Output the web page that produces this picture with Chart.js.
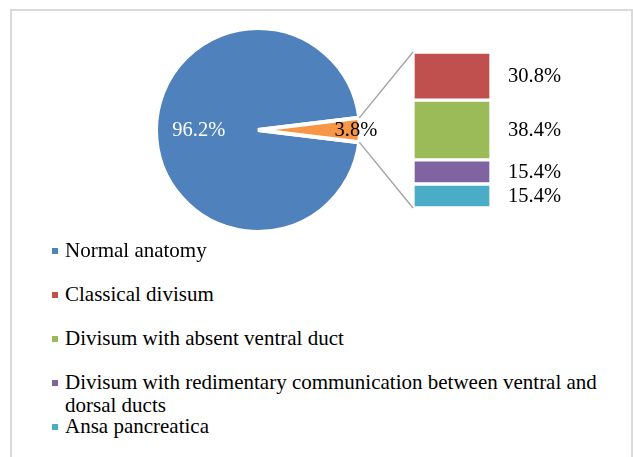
<!DOCTYPE html>
<html>
<head>
<meta charset="utf-8">
<script src="https://cdn.jsdelivr.net/npm/chart.js@4.4.1/dist/chart.umd.min.js"></script>
<style>
  html, body { margin: 0; padding: 0; background: #fff; }
  #wrap { position: relative; width: 633px; height: 457px; overflow: hidden; }
  #frame { position: absolute; left: 10px; top: 9px; width: 619px; height: 446px; border: 2px solid #dadada; }
  #pieBox { position: absolute; left: 128px; top: 20px; width: 260px; height: 220px; }
  #barBox { position: absolute; left: 340px; top: 40px; width: 260px; height: 180px; }
  .leg { position: absolute; left: 65px; width: 550px; line-height: 23px; color: #000; }
  .leg i { position: absolute; left: -13px; top: 9px; width: 6px; height: 6px; }
</style>
</head>
<body>
<div id="wrap">
  <div id="frame"></div>
  <div id="pieBox"><canvas id="pieChart" width="260" height="220"></canvas></div>
  <div id="barBox"><canvas id="barChart" width="260" height="180"></canvas></div>
  <div id="legend"></div>
</div>
<script>
// main pie: normal vs. everything else
const pieLabels = ['Normal anatomy', 'Other'];
const pieValues = [96.2, 3.8];
const pieColors = ['#4F81BD', '#F79646'];

// breakdown of the small slice
const subLabels = ['Classical divisum', 'Divisum with absent ventral duct', 'Divisum with redimentary communication between ventral and dorsal ducts', 'Ansa pancreatica'];
const subValues = [30.8, 38.4, 15.4, 15.4];
const subColors = ['#C0504D', '#9BBB59', '#8064A2', '#4BACC6'];

const family = '"Liberation Serif", Tinos, "Times New Roman", Times, "DejaVu Serif", "Noto Serif", serif';

// size the serif font so that its width matches the picture, whatever face we got
function fitSize(text, targetWidth) {
    const c = document.createElement('canvas').getContext('2d');
    c.font = '100px ' + family;
    return Math.round(targetWidth / c.measureText(text).width * 1000) / 10;
}
const legendSize = fitSize('Normal anatomy', 142);
const labelSize = fitSize('30.8%', 53);
const labelFont = labelSize + 'px ' + family;

// legend rows: first the pie's main slice, then the breakdown items
const legendItems = [{ text: pieLabels[0], color: pieColors[0] }]
    .concat(subLabels.map((t, i) => ({ text: t, color: subColors[i] })));
const legendEl = document.getElementById('legend');
legendItems.forEach((item, i) => {
    const div = document.createElement('div');
    div.className = 'leg';
    div.style.top = (239 + i * 44) + 'px';
    div.style.fontFamily = family;
    div.style.fontSize = legendSize + 'px';
    div.innerHTML = '<i style="background:' + item.color + '"></i>' + item.text;
    legendEl.appendChild(div);
});

const pieLabelPlugin = {
    id: 'pieLabels',
    afterDatasetsDraw(chart) {
        const ctx = chart.ctx;
        const arcs = chart.getDatasetMeta(0).data;
        const spots = [0.58, 0.96];
        const colors = ['#ffffff', '#000000'];
        ctx.save();
        ctx.font = labelFont;
        ctx.textAlign = 'center';
        ctx.textBaseline = 'middle';
        arcs.forEach((arc, i) => {
            const mid = (arc.startAngle + arc.endAngle) / 2;
            const r = arc.outerRadius * spots[i];
            ctx.fillStyle = colors[i];
            ctx.fillText(pieValues[i].toFixed(1) + '%', arc.x + Math.cos(mid) * r, arc.y + Math.sin(mid) * r + 1);
        });
        ctx.restore();
    }
};

const pieChart = new Chart(document.getElementById('pieChart'), {
    type: 'pie',
    data: {
        labels: pieLabels,
        datasets: [{ data: pieValues, backgroundColor: pieColors, borderColor: '#ffffff', borderWidth: 4 }]
    },
    options: {
        responsive: false,
        animation: false,
        radius: 102,
        rotation: 90 + pieValues[1] * 1.8,
        layout: { padding: 0 },
        plugins: { legend: { display: false }, tooltip: { enabled: false } }
    },
    plugins: [pieLabelPlugin]
});

const barExtras = {
    id: 'barExtras',
    afterDraw(chart) {
        const ctx = chart.ctx;
        const area = chart.chartArea;
        // connector lines from the small slice to the stacked bar
        const arc = pieChart.getDatasetMeta(0).data[1];
        const pr = document.getElementById('pieChart').getBoundingClientRect();
        const br = chart.canvas.getBoundingClientRect();
        const dx = pr.left - br.left, dy = pr.top - br.top;
        const p1 = [arc.x + dx + Math.cos(arc.startAngle) * arc.outerRadius, arc.y + dy + Math.sin(arc.startAngle) * arc.outerRadius];
        const p2 = [arc.x + dx + Math.cos(arc.endAngle) * arc.outerRadius, arc.y + dy + Math.sin(arc.endAngle) * arc.outerRadius];
        ctx.save();
        ctx.strokeStyle = '#A6A6A6';
        ctx.lineWidth = 1.5;
        ctx.beginPath();
        ctx.moveTo(p1[0], p1[1]); ctx.lineTo(area.left, area.top);
        ctx.moveTo(p2[0], p2[1]); ctx.lineTo(area.left, area.bottom);
        ctx.stroke();

        // value labels next to each segment
        ctx.font = labelFont;
        ctx.fillStyle = '#000000';
        ctx.textAlign = 'left';
        ctx.textBaseline = 'middle';
        chart.data.datasets.forEach((ds, i) => {
            const el = chart.getDatasetMeta(i).data[0];
            ctx.fillText(ds.data[0].toFixed(1) + '%', area.right + 17, (el.y + el.base) / 2 + 1);
        });
        ctx.restore();
    }
};

new Chart(document.getElementById('barChart'), {
    type: 'bar',
    data: {
        labels: [''],
        datasets: subLabels.map((l, i) => ({
            label: l,
            data: [subValues[i]],
            backgroundColor: subColors[i],
            borderColor: '#ffffff',
            borderWidth: 2,
            borderSkipped: false,
            barPercentage: 1,
            categoryPercentage: 1
        }))
    },
    options: {
        responsive: false,
        animation: false,
        layout: { padding: { left: 73, right: 109, top: 12, bottom: 12 } },
        scales: {
            x: { stacked: true, display: false },
            y: { stacked: true, display: false, min: 0, max: 100, reverse: true }
        },
        plugins: { legend: { display: false }, tooltip: { enabled: false } }
    },
    plugins: [barExtras]
});
</script>
</body>
</html>
